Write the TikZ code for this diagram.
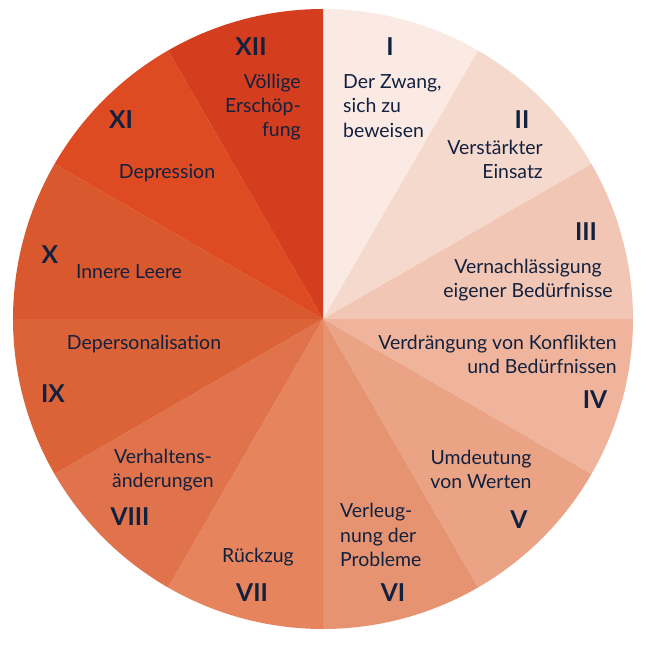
\documentclass[tikz,border=0pt]{standalone}
\usepackage{fontspec}
\setmainfont{Lato}
\definecolor{secI}{HTML}{FBEAE3}
\definecolor{secII}{HTML}{F6D9CD}
\definecolor{secIII}{HTML}{F2C6B4}
\definecolor{secIV}{HTML}{EFB49B}
\definecolor{secV}{HTML}{EAA385}
\definecolor{secVI}{HTML}{E69372}
\definecolor{secVII}{HTML}{E5845D}
\definecolor{secVIII}{HTML}{E1734C}
\definecolor{secIX}{HTML}{DC6237}
\definecolor{secX}{HTML}{DA582E}
\definecolor{secXI}{HTML}{DE4A22}
\definecolor{secXII}{HTML}{D43E1E}
\definecolor{ink}{HTML}{12213F}
\tikzset{
  stagetext/.style={text=ink,font=\fontsize{16.6}{20.6}\selectfont,inner sep=0pt},
  stagenum/.style={text=ink,font=\fontsize{21}{21}\selectfont\bfseries,inner sep=0pt}
}
\begin{document}
\begin{tikzpicture}[x=0.03cm,y=0.03cm]
\useasboundingbox (-323,-328) rectangle (323,319);

\foreach \c [count=\i] in {secI,secII,secIII,secIV,secV,secVI,secVII,secVIII,secIX,secX,secXI,secXII}
  \fill[\c] (0,0) -- ({120-30*\i}:310) arc[start angle={120-30*\i}, end angle={90-30*\i}, radius=310] -- cycle;

\node[stagenum] (nI) at (67,272) {I};
\node[stagetext,anchor=west,align=left] (tI) at (20,213) {Der Zwang,\\sich zu\\beweisen};
\node[stagenum] (nII) at (199,199) {II};
\node[stagetext,anchor=east,align=right] (tII) at (220,160) {Verstärkter\\Einsatz};
\node[stagenum] (nIII) at (263,87) {III};
\node[stagetext,align=center] (tIII) at (205,39) {Vernachlässigung\\eigener Bedürfnisse};
\node[stagetext,anchor=east,align=right] (tIV) at (294,-35) {Verdrängung von Konflikten\\und Bedürfnissen};
\node[stagenum] (nIV) at (272,-81) {IV};
\node[stagetext,align=center] (tV) at (158,-150) {Umdeutung\\von Werten};
\node[stagenum] (nV) at (196,-201) {V};
\node[stagetext,anchor=west,align=left] (tVI) at (17,-216) {Verleug-\\nung der\\Probleme};
\node[stagenum] (nVI) at (70,-274) {VI};
\node[stagetext] (tVII) at (-65,-238) {Rückzug};
\node[stagenum] (nVII) at (-71,-274) {VII};
\node[stagetext,align=center] (tVIII) at (-160,-151) {Verhaltens-\\änderungen};
\node[stagenum] (nVIII) at (-193,-198) {VIII};
\node[stagetext] (tIX) at (-179,-25) {Depersonalisation};
\node[stagenum] (nIX) at (-270,-75) {IX};
\node[stagenum] (nX) at (-273,64) {X};
\node[stagetext] (tX) at (-194,47) {Innere Leere};
\node[stagenum] (nXI) at (-202,199) {XI};
\node[stagetext] (tXI) at (-156,146) {Depression};
\node[stagenum] (nXII) at (-72,272) {XII};
\node[stagetext,anchor=east,align=right] (tXII) at (-22,212) {Völlige\\Erschöp-\\fung};
\end{tikzpicture}
\end{document}
